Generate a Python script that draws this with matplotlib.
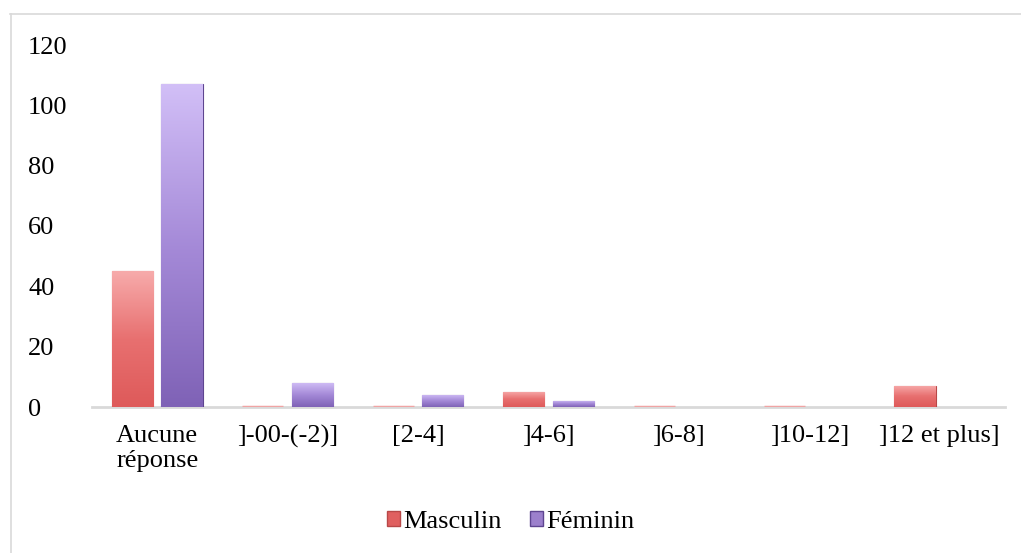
import matplotlib
matplotlib.use("Agg")
import matplotlib.pyplot as plt
import numpy as np
from matplotlib.colors import LinearSegmentedColormap
from matplotlib.patches import Rectangle
from matplotlib.lines import Line2D

categories = ["Aucune\nréponse", "]-00-(-2)]", "[2-4]", "]4-6]", "]6-8]", "]10-12]", "]12 et plus]"]
masculin = [45, 0, 0, 5, 0, 0, 7]
feminin = [107, 8, 4, 2, None, None, None]
yticks = [0, 20, 40, 60, 80, 100, 120]

plt.rcParams['font.family'] = ['Liberation Serif', 'DejaVu Serif']

fig = plt.figure(figsize=(10.21, 5.53), dpi=100)
ax = fig.add_axes([92/1021, 1-407/553, (1005-92)/1021, (407-45)/553])

x = np.arange(len(categories))
w = 0.315
off = 0.19

cmap_m = LinearSegmentedColormap.from_list("m", ["#DE5A5A", "#E87070", "#F7ABAB"])
cmap_f = LinearSegmentedColormap.from_list("f", ["#7F62B6", "#A58AD8", "#D2BFF7"])
edge_m = "#B84848"
edge_f = "#5E4590"

def draw(vals, pos, cmap, edge, light):
    xs = [p for p, v in zip(pos, vals) if v is not None]
    vs = [v for v in vals if v is not None]
    bars = ax.bar(xs, vs, width=w, color=light, edgecolor=edge, linewidth=0.8, zorder=3)
    grad = np.linspace(0, 1, 256).reshape(-1, 1)
    for b in bars:
        h = b.get_height()
        if h <= 0:
            b.set_edgecolor("#F0A4A4")
            b.set_linewidth(2.5)
            continue
        im = ax.imshow(grad, cmap=cmap, origin="lower", aspect="auto",
                       extent=[b.get_x(), b.get_x()+b.get_width(), 0, h], zorder=3)
        im.set_clip_path(b)
    return bars

draw(masculin, x - off, cmap_m, edge_m, "#F2A0A0")
draw(feminin, x + off, cmap_f, edge_f, "#C8B4F0")

ax.set_xlim(-0.5, len(categories) - 0.5)
ax.set_ylim(0, 120)
ax.set_yticks(yticks)
ax.set_yticklabels([str(t) for t in yticks], fontsize=19)
ax.set_xticks(x)
ax.set_xticklabels(categories, fontsize=19)
ax.tick_params(axis='both', length=0)
ax.tick_params(axis='x', pad=13)
for lab in ax.get_yticklabels():
    lab.set_horizontalalignment('left')
ax.tick_params(axis='y', pad=46)
for s in ["top", "right", "left"]:
    ax.spines[s].set_visible(False)
ax.spines["bottom"].set_color("#D9D9D9")
ax.spines["bottom"].set_linewidth(2)
ax.spines["bottom"].set_zorder(2)

h1 = Rectangle((0, 0), 1, 1, facecolor="#E06060", edgecolor=edge_m)
h2 = Rectangle((0, 0), 1, 1, facecolor="#9C80CC", edgecolor=edge_f)
fig.legend([h1, h2], ["Masculin", "Féminin"], loc="center", bbox_to_anchor=(0.5, 1-522/553),
           ncol=2, frameon=False, fontsize=19, handlelength=0.5, handleheight=0.5,
           handletextpad=0.1, columnspacing=1.1)

fig.lines.append(Line2D([10.5/1021, 10.5/1021], [0, 1-14/553], transform=fig.transFigure,
                        color="#D9D9D9", linewidth=1.2))
fig.lines.append(Line2D([10/1021, 1], [1-14/553, 1-14/553], transform=fig.transFigure,
                        color="#D9D9D9", linewidth=1.2))

fig.savefig("out.png", dpi=100)
